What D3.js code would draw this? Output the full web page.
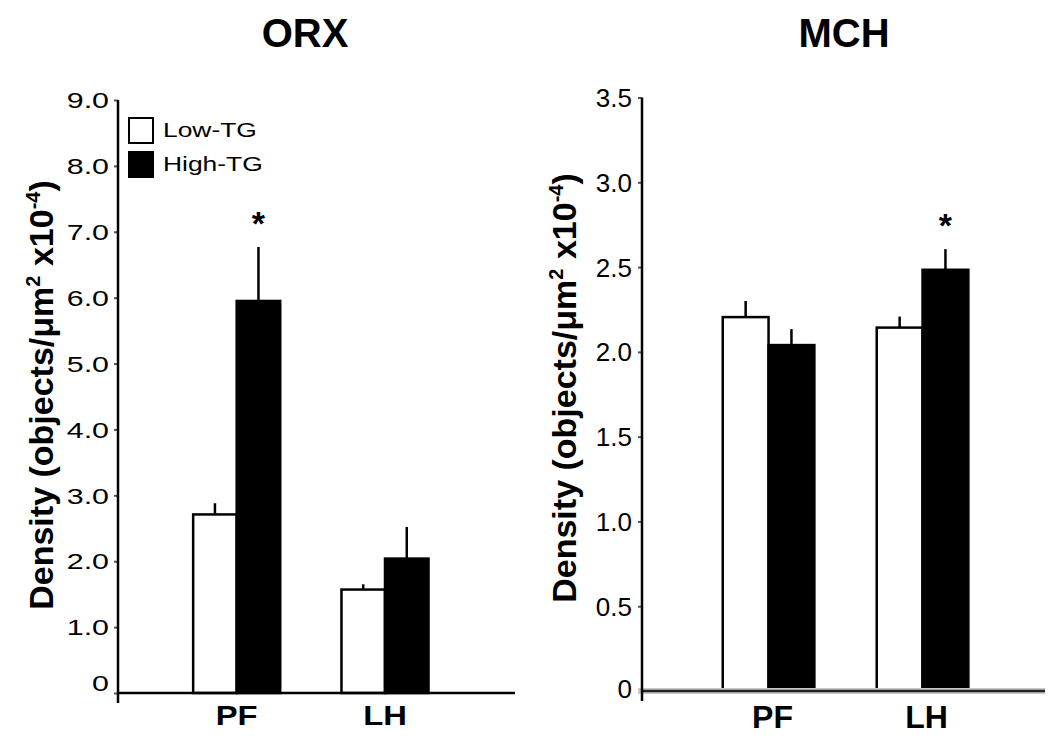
<!DOCTYPE html>
<html>
<head>
<meta charset="utf-8">
<script src="https://cdn.jsdelivr.net/npm/d3@7"></script>
<style>
  html, body { margin: 0; padding: 0; background: #fff; }
  svg { display: block; }
  text { font-family: "Liberation Sans", Arial, sans-serif; fill: #000; }
</style>
</head>
<body>
<svg id="chart" width="1050" height="743"></svg>
<script>
// ---------------- DATA ----------------
const categories = ["PF", "LH"];
const groups = ["Low-TG", "High-TG"];

const orxLow = [2.71, 1.57];
const orxLowErr = [0.17, 0.08];
const orxHigh = [5.95, 2.04];
const orxHighErr = [0.82, 0.48];
const orxSignificant = [true, false];   // asterisk over High-TG bar
const orxTicks = [0, 1, 2, 3, 4, 5, 6, 7, 8, 9];
const orxTickLabels = ["0", "1.0", "2.0", "3.0", "4.0", "5.0", "6.0", "7.0", "8.0", "9.0"];

const mchLow = [2.205, 2.143];
const mchLowErr = [0.095, 0.065];
const mchHigh = [2.04, 2.484];
const mchHighErr = [0.094, 0.122];
const mchSignificant = [false, true];
const mchTicks = [0, 0.5, 1, 1.5, 2, 2.5, 3, 3.5];
const mchTickLabels = ["0", "0.5", "1.0", "1.5", "2.0", "2.5", "3.0", "3.5"];

const panelTitles = ["ORX", "MCH"];
const groupColors = ["#ffffff", "#000000"];

// ---------------- HELPERS ----------------
const svg = d3.select("#chart");

function stretch(sel, factor) {
  sel.each(function () {
    const len = this.getComputedTextLength();
    d3.select(this).attr("textLength", len * factor).attr("lengthAdjust", "spacingAndGlyphs");
  });
}

function drawPanel(cfg) {
  const g = svg.append("g");
  const y = d3.scaleLinear().domain([0, cfg.yMax]).range([cfg.y0, cfg.yTop]);
  const x = d3.scaleBand().domain(categories).range([cfg.xAxis, cfg.xEnd])
    .paddingInner(cfg.pIn).paddingOuter(cfg.pOut).align(cfg.align);
  const xs = d3.scaleBand().domain(groups).range([0, x.bandwidth()]).padding(0);

  const rows = categories.map((c, i) => ({
    cat: c,
    vals: [
      { grp: groups[0], v: cfg.low[i], e: cfg.lowErr[i], sig: false },
      { grp: groups[1], v: cfg.high[i], e: cfg.highErr[i], sig: cfg.sig[i] }
    ]
  }));

  // y axis ticks + labels
  const ax = d3.axisLeft(y).tickValues(cfg.ticks).tickSize(4).tickPadding(cfg.tickPad)
    .tickFormat((d, i) => cfg.tickLabels[i]);
  const axG = g.append("g").attr("transform", `translate(${cfg.xAxis},0)`).call(ax);
  axG.select(".domain").remove();
  axG.selectAll(".tick line").attr("stroke", "#555").attr("stroke-width", 2);
  axG.selectAll(".tick text")
    .style("font-family", "'Liberation Sans', Arial, sans-serif")
    .style("font-size", cfg.tickFont + "px").attr("fill", "#000")
    .attr("dy", (d) => d === 0 ? cfg.zeroDy : "0.35em");
  if (cfg.tickStretch !== 1) stretch(axG.selectAll(".tick text"), cfg.tickStretch);

  // bars
  const grpSel = g.selectAll(".grp").data(rows).enter().append("g")
    .attr("transform", (d) => `translate(${x(d.cat)},0)`);
  grpSel.selectAll("rect").data((d) => d.vals).enter().append("rect")
    .attr("x", (d) => xs(d.grp))
    .attr("y", (d) => y(d.v))
    .attr("width", xs.bandwidth())
    .attr("height", (d) => y(0) - y(d.v))
    .attr("fill", (d, i) => groupColors[i])
    .attr("stroke", "#000")
    .attr("stroke-width", 2.5);
  // error bars (upper only)
  grpSel.selectAll("line.err").data((d) => d.vals).enter().append("line")
    .attr("class", "err")
    .attr("x1", (d) => xs(d.grp) + xs.bandwidth() / 2)
    .attr("x2", (d) => xs(d.grp) + xs.bandwidth() / 2)
    .attr("y1", (d) => y(d.v))
    .attr("y2", (d) => y(d.v + d.e))
    .attr("stroke", "#000").attr("stroke-width", 2.5);
  // significance asterisks
  grpSel.selectAll("text.sig").data((d) => d.vals.filter((v) => v.sig)).enter().append("text")
    .attr("class", "sig")
    .attr("x", (d) => xs(d.grp) + xs.bandwidth() / 2)
    .attr("y", (d) => y(d.v + d.e) - 12)
    .attr("text-anchor", "middle")
    .style("font-size", "34px").style("font-weight", "bold")
    .text("*");

  // axis lines
  if (cfg.glow) {
    g.append("line").attr("x1", cfg.xAxis - 4).attr("x2", cfg.xEnd).attr("y1", cfg.y0).attr("y2", cfg.y0)
      .attr("stroke", "#c8c8c8").attr("stroke-width", 6);
  }
  g.append("line").attr("x1", cfg.xAxis).attr("x2", cfg.xEnd).attr("y1", cfg.y0).attr("y2", cfg.y0)
    .attr("stroke", cfg.glow ? "#222" : "#000").attr("stroke-width", 2.5);
  g.append("line").attr("x1", cfg.xAxis).attr("x2", cfg.xAxis).attr("y1", cfg.yTop).attr("y2", cfg.y0 + 10)
    .attr("stroke", "#000").attr("stroke-width", 2.5);

  // category labels
  const cl = g.selectAll("text.cat").data(categories).enter().append("text")
    .attr("class", "cat")
    .attr("x", (d) => x(d) + x.bandwidth() / 2 + cfg.catDx)
    .attr("y", cfg.catY)
    .attr("text-anchor", "middle")
    .style("font-size", cfg.catFont + "px").style("font-weight", "bold")
    .text((d) => d);
  if (cfg.catStretch !== 1) stretch(cl, cfg.catStretch);

  // title
  g.append("text").attr("x", cfg.titleX).attr("y", 47).attr("text-anchor", "middle")
    .style("font-size", "40px").style("font-weight", "bold").text(cfg.title);

  // y label
  const yl = g.append("text")
    .attr("transform", `translate(${cfg.ylabX},${cfg.ylabY}) rotate(-90)`)
    .attr("text-anchor", "middle")
    .style("font-size", "34px").style("font-weight", "bold");
  yl.append("tspan").text("Density (objects/μm");
  yl.append("tspan").attr("dy", -13).style("font-size", "20px").text("2");
  yl.append("tspan").attr("dy", 13).text(" x10");
  yl.append("tspan").attr("dy", -13).style("font-size", "20px").text("-4");
  yl.append("tspan").attr("dy", 13).text(")");

  return { g, x, xs, y };
}

// ---------------- PANELS ----------------
const left = drawPanel({
  title: panelTitles[0], titleX: 305,
  yMax: 9, y0: 693, yTop: 100, xAxis: 118, xEnd: 515,
  pIn: 0.413, pOut: 0.545, align: 0.465,
  low: orxLow, lowErr: orxLowErr, high: orxHigh, highErr: orxHighErr, sig: orxSignificant,
  ticks: orxTicks, tickLabels: orxTickLabels, tickPad: 5, tickFont: 22, tickStretch: 1.38, zeroDy: "-0.1em",
  catY: 725, catFont: 28, catStretch: 1.17, catDx: 0,
  ylabX: 53, ylabY: 395, glow: false
});

drawPanel({
  title: panelTitles[1], titleX: 844,
  yMax: 3.5, y0: 691, yTop: 97.5, xAxis: 642, xEnd: 1045,
  pIn: 0.405, pOut: 0.511, align: 0.513,
  low: mchLow, lowErr: mchLowErr, high: mchHigh, highErr: mchHighErr, sig: mchSignificant,
  ticks: mchTicks, tickLabels: mchTickLabels, tickPad: 6, tickFont: 26, tickStretch: 1, zeroDy: "0.25em",
  catY: 728, catFont: 32, catStretch: 1, catDx: 4,
  ylabX: 576, ylabY: 388, glow: true
});

// legend (left panel)
const legend = left.g.append("g").attr("transform", "translate(129,118)");
const li = legend.selectAll("g").data(groups).enter().append("g")
  .attr("transform", (d, i) => `translate(0,${i * 34})`);
li.append("rect").attr("x", 0).attr("y", 0).attr("width", 24).attr("height", 25)
  .attr("fill", (d, i) => groupColors[i]).attr("stroke", "#000").attr("stroke-width", 2);
const lt = li.append("text").attr("x", 34).attr("y", 19)
  .style("font-size", "20px").text((d) => d);
stretch(lt, 1.32);
</script>
</body>
</html>
